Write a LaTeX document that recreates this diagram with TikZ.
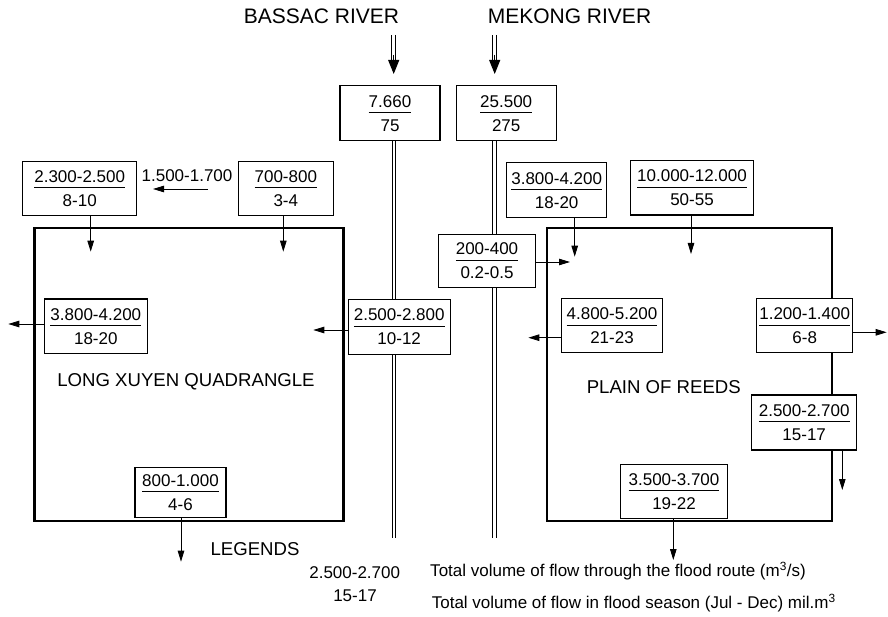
\documentclass[tikz,border=0pt]{standalone}
\usepackage{fontspec}
\setmainfont{Liberation Sans}
\usetikzlibrary{arrows.meta,backgrounds,calc}
\newcommand\frbox[2]{{\setlength\arrayrulewidth{1pt}\def\arraystretch{0}\begin{tabular}{@{}c@{}}\rule[-5pt]{0pt}{5pt}#1\\\hline\rule{0pt}{18pt}#2\end{tabular}}}
\begin{document}
\begin{tikzpicture}[x=1pt,y=-1pt,
  every node/.style={font=\fontsize{17}{20}\selectfont},
  fb/.style={draw, fill=white, line width=1.1pt, inner sep=0pt},
  region/.style={draw, line width=2.4pt, inner sep=0pt},
  arr/.style={-{Triangle[length=11pt,width=6.5pt]}, line width=0.9pt},
  bigarr/.style={-{Triangle[length=14pt,width=11pt]}, line width=1pt},
  dbl/.style={double, double distance=2.6pt, line width=1pt},
  title/.style={anchor=base, font=\fontsize{21}{24}\selectfont},
  rlabel/.style={anchor=base, font=\fontsize{18.6}{22}\selectfont},
  plain/.style={anchor=base}]
\useasboundingbox (0,0) rectangle (888,617);

% regions
\node[region, minimum width=309pt, minimum height=292.4pt] (lxq) at (188.8,374.5) {};
\node[region, minimum width=285pt, minimum height=292.4pt] (por) at (689.2,374.5) {};

% titles
\node[title] (bassacT) at (321.5,23.3) {BASSAC RIVER};
\node[title] (mekongT) at (569.5,23.3) {MEKONG RIVER};

% boxes
\node[fb, minimum width=100pt, minimum height=55pt] (bassacbox) at (390,113.2) {\frbox{7.660}{75}};
\node[fb, minimum width=100.3pt, minimum height=55pt] (mekongbox) at (506.2,113.2) {\frbox{25.500}{275}};
\node[fb, minimum width=114pt, minimum height=54.4pt] (lxTL) at (79.7,188.5) {\frbox{2.300-2.500}{8-10}};
\node[fb, minimum width=95pt, minimum height=54.4pt] (lxTR) at (285.8,188.5) {\frbox{700-800}{3-4}};
\node[fb, minimum width=103pt, minimum height=54.3pt] (lxL) at (95.8,326.2) {\frbox{3.800-4.200}{18-20}};
\node[fb, minimum width=101.7pt, minimum height=55pt] (lxR) at (399.2,326.8) {\frbox{2.500-2.800}{10-12}};
\node[fb, minimum width=91pt, minimum height=49.6pt] (lxB) at (180.5,492.5) {\frbox{800-1.000}{4-6}};
\node[fb, minimum width=100pt, minimum height=55pt] (prTL) at (556.7,190.2) {\frbox{3.800-4.200}{18-20}};
\node[fb, minimum width=122.6pt, minimum height=54.3pt] (prTR) at (692,187.9) {\frbox{10.000-12.000}{50-55}};
\node[fb, minimum width=97.4pt, minimum height=53pt] (prIn) at (487,260.8) {\frbox{200-400}{0.2-0.5}};
\node[fb, minimum width=100.6pt, minimum height=53.7pt] (prL) at (612,325.8) {\frbox{4.800-5.200}{21-23}};
\node[fb, minimum width=96pt, minimum height=53.7pt] (prR) at (804.7,325.8) {\frbox{1.200-1.400}{6-8}};
\node[fb, minimum width=105pt, minimum height=55pt] (prR2) at (804.2,422.5) {\frbox{2.500-2.700}{15-17}};
\node[fb, minimum width=106.6pt, minimum height=54.3pt] (prB) at (674,491.2) {\frbox{3.500-3.700}{19-22}};

% labels
\node[plain] (flowlbl) at (187,181.7) {1.500-1.700};
\node[rlabel] (lxqlbl) at (186,386) {LONG XUYEN QUADRANGLE};
\node[rlabel] (porlbl) at (663.8,393.3) {PLAIN OF REEDS};
\node[rlabel] (legT) at (255,555) {LEGENDS};
\node[plain] (legA) at (354.7,578.3) {2.500-2.700};
\node[plain] (legB) at (355,601) {15-17};
\node[anchor=base west] (legC) at (426.7,576.7) {Total volume of flow through the flood route (m\textsuperscript{3}/s)};
\node[anchor=base west] (legD) at (428.3,608.3) {Total volume of flow in flood season (Jul - Dec) mil.m\textsuperscript{3}};

% coordinates
\coordinate (bTop) at (393.7,35);
\coordinate (bMid) at (393.7,61);
\coordinate (bArr) at (393.7,55);
\coordinate (bTip) at (393.7,74);
\coordinate (bEnd) at (394,537.7);
\coordinate (mTop) at (494.7,35);
\coordinate (mMid) at (494.7,61);
\coordinate (mArr) at (494.7,55);
\coordinate (mTip) at (494.7,74);
\coordinate (mEnd) at (494.5,537.7);

\coordinate (t1) at (90.7,251.7);
\coordinate (t2) at (283.3,251.7);
\coordinate (f1) at (208,189);
\coordinate (f2) at (153,189);
\coordinate (t3) at (8.3,324);
\coordinate (t4) at (313.3,330);
\coordinate (t5) at (181,561.7);
\coordinate (t6) at (574.7,256.7);
\coordinate (t7) at (691,254);
\coordinate (t8) at (570,262);
\coordinate (t9) at (528.3,337.7);
\coordinate (t10) at (886.7,332.3);
\coordinate (t11) at (842.3,490);
\coordinate (t12) at (673.3,560);

% rivers
\draw[dbl] (bTop) -- (bMid);
\draw[bigarr] (bArr) -- (bTip);
\draw[dbl] (mTop) -- (mMid);
\draw[bigarr] (mArr) -- (mTip);
\begin{pgfonlayer}{background}
\draw[dbl] (bassacbox.south -| bEnd) -- (bEnd);
\draw[dbl] (mekongbox.south -| mEnd) -- (mEnd);
\end{pgfonlayer}

% flow arrows
\draw[arr] (lxTL.south -| t1) -- (t1);
\draw[arr] (lxTR.south -| t2) -- (t2);
\draw[arr] (f1) -- (f2);
\draw[arr] (lxL.west |- t3) -- (t3);
\draw[arr] (lxR.west |- t4) -- (t4);
\draw[arr] (lxB.south -| t5) -- (t5);
\draw[arr] (prTL.south -| t6) -- (t6);
\draw[arr] (prTR.south -| t7) -- (t7);
\draw[arr] (prIn.east |- t8) -- (t8);
\draw[arr] (prL.west |- t9) -- (t9);
\draw[arr] (prR.east |- t10) -- (t10);
\draw[arr] (prR2.south -| t11) -- (t11);
\draw[arr] (prB.south -| t12) -- (t12);
\end{tikzpicture}
\end{document}
